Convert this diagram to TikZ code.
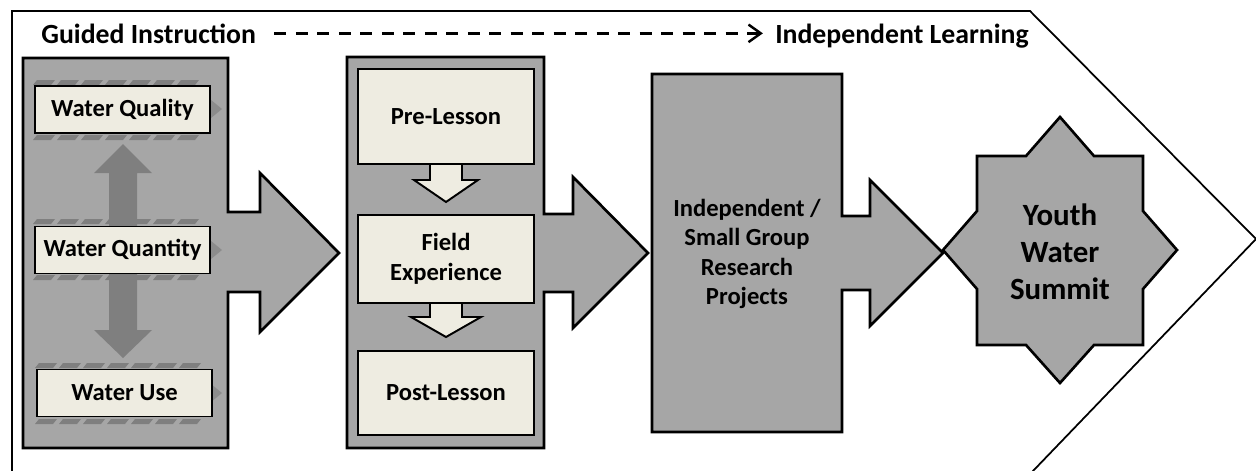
\documentclass[tikz,border=0pt]{standalone}
\usepackage{fontspec}
\setmainfont{Carlito}
\usetikzlibrary{arrows.meta}
\definecolor{panelgray}{HTML}{A6A6A6}
\definecolor{boxcream}{HTML}{EEECE1}
\definecolor{stripegray}{HTML}{7F7F7F}
\definecolor{tipgray}{HTML}{8C8C8C}
\tikzset{
  panel/.style={fill=panelgray,draw=black,line width=1.5pt,line join=miter},
  topicbox/.style={fill=boxcream,draw=black,line width=1.1pt,inner sep=0pt,
    minimum width=3.5cm,minimum height=0.94cm,align=center,
    font=\bfseries\fontsize{14}{16.8}\selectfont},
  lessonbox/.style={topicbox,minimum width=3.52cm},
  downarrow/.style={fill=boxcream,draw=black,line width=1.1pt},
  label/.style={align=center,inner sep=0pt,font=\bfseries\fontsize{14}{16.8}\selectfont},
  headtext/.style={inner sep=0pt,font=\bfseries\fontsize{15.8}{19}\selectfont},
}
\begin{document}
\begin{tikzpicture}[x=0.02cm,y=-0.02cm]
\useasboundingbox (0,0) rectangle (1256,470);
% frame
\draw[line width=1pt] (12,11)--(1030,11)--(1256,239)--(1032,472)--(12,472)--cycle;

\node[headtext,anchor=base west] (guided) at (41,43) {Guided Instruction};
\node[headtext,anchor=base east] (independent) at (1029,43) {Independent Learning};
\draw[line width=0.07cm,dash pattern=on 0.24cm off 0.19cm,
	shorten <=0.36cm,shorten >=0.24cm,
	-{Straight Barb[length=7pt,width=10pt,line width=1.4pt]}]
	(guided.east)--(guided.east -| independent.west);

% panels
\draw[panel] (23,58)--(228,58)--(228,212)--(260,212)--(260,173)--(339,253)
	--(260,332)--(260,292)--(228,292)--(228,448)--(23,448)--cycle;
\draw[panel] (347,57)--(544,57)--(544,214)--(573,214)--(573,177)--(648,253)
	--(573,328)--(573,292)--(544,292)--(544,448)--(347,448)--cycle;
\draw[panel] (652,74)--(842,74)--(842,216)--(870,216)--(870,180)--(943,253)
	--(870,326)--(870,290)--(842,290)--(842,432)--(652,432)--cycle;

% up and down arrow
\fill[stripegray] (123,144)--(152,173)--(137,173)--(137,330)--(152,330)--(123,358)
	--(94,330)--(109,330)--(109,173)--(94,173)--cycle;
\foreach \hx/\hy in {33/80,33/135,33/219,33/275,35/363,35/419}
	\foreach \k in {0,...,6}
		\fill[stripegray] ({\hx+24*\k},{\hy+5})--({\hx+24*\k+18},{\hy+5})
			--({\hx+24*\k+22},\hy)--({\hx+24*\k+4},\hy)--cycle;
\foreach \ty in {109,250,393}
	\fill[tipgray] (211,{\ty-9})--(222,\ty)--(211,{\ty+9})--cycle;

\node[topicbox] (quality) at (122.5,109.5) {Water Quality};
\node[topicbox] (quantity) at (122.5,250) {Water Quantity};
\node[topicbox] (use) at (124.5,393) {Water Use};

\node[lessonbox,minimum height=1.9cm] (pre) at (446,116.5) {Pre-Lesson};
\node[lessonbox,minimum height=1.76cm] (field) at (446,259) {Field\\Experience};
\node[lessonbox,minimum height=1.68cm] (post) at (446,393) {Post-Lesson};
\draw[downarrow] (430,164)--(462,164)--(462,180)--(478,180)--(446,202)
	--(414,180)--(430,180)--cycle;
\draw[downarrow] (430,303)--(462,303)--(462,317)--(481,317)--(446,337)
	--(411,317)--(430,317)--cycle;

\node[label] (research) at (747,254) {Independent /\\Small Group\\Research\\Projects};

% summit star
\draw[panel] (1060,117)--(1094,156)--(1143,156)--(1143,211)--(1177,250)--(1143,289)
	--(1143,345)--(1094,345)--(1060,383)--(1026,345)--(977,345)--(977,289)
	--(943,250)--(977,211)--(977,156)--(1026,156)--cycle;
\node[label,font=\bfseries\fontsize{17.6}{21}\selectfont] (summit) at (1060,252)
	{Youth\\Water\\Summit};
\end{tikzpicture}
\end{document}
